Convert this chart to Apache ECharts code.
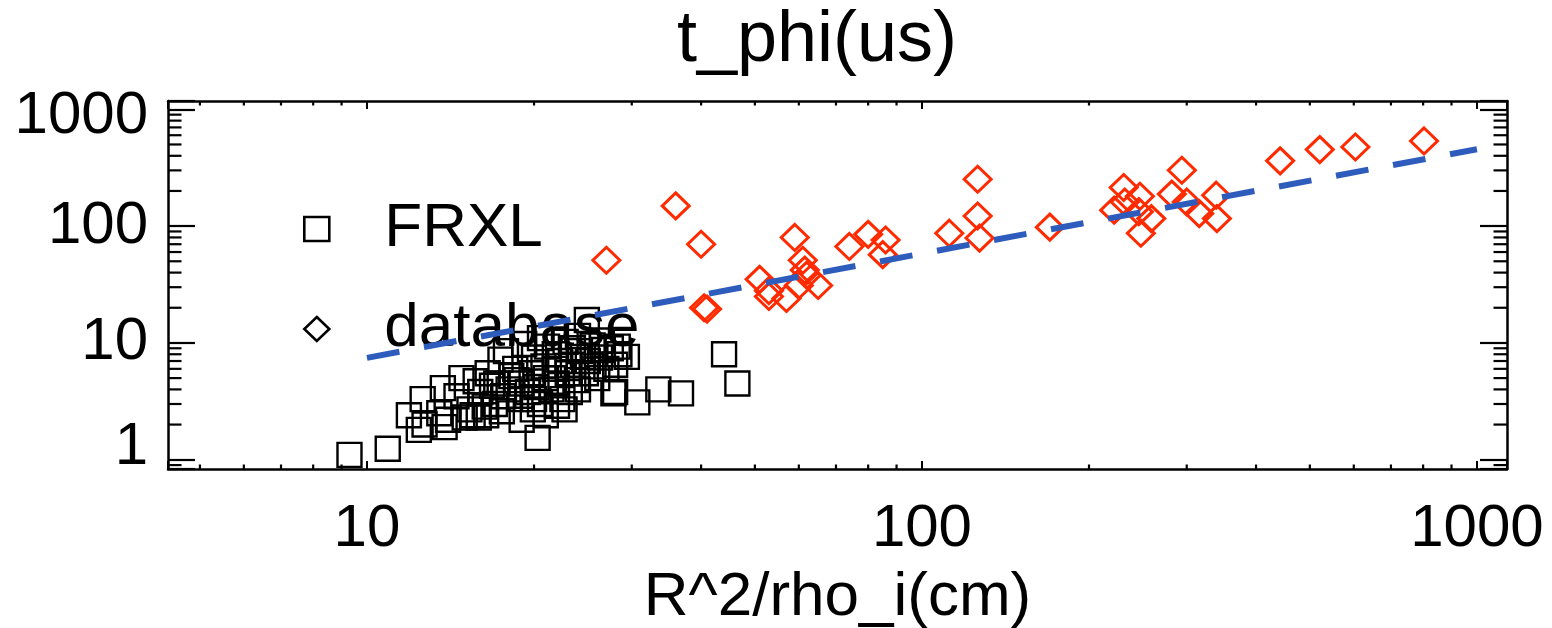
<!DOCTYPE html>
<html>
<head>
<meta charset="utf-8">
<title>t_phi(us)</title>
<script src="https://cdn.jsdelivr.net/npm/echarts@6.0.0/dist/echarts.min.js"></script>
<style>
    html, body {
        margin: 0;
        padding: 0;
        background: #fff;
    }
    #chart {
        width: 1552px;
        height: 628px;
    }
</style>
</head>
<body>
<div id="chart"></div>
<script>
    // FRXL points: R^2/rho_i (cm), t_phi (us)
    let frxlX = [9.3, 10.9, 11.9, 12.4, 12.7, 12.6, 13.7, 13.8, 13.5, 14, 14.5, 14.8, 15, 15.3, 15.5, 15.7, 15.9, 16, 16.3, 16.4,
        16.5, 16.8, 17, 17.1, 17.4, 17.5, 17.6, 17.8, 18, 18.2, 18.5, 18.6, 18.9, 19, 19, 19.2, 19.5, 19.8, 19.9, 20,
        20, 20.2, 20.3, 20.5, 20.5, 20.8, 21, 21, 21.1, 21.5, 21.8, 21.8, 22, 22, 22.3, 22.5, 22.7, 22.8, 23, 23.2,
        23.5, 23.5, 23.9, 24, 24, 24.2, 24.5, 24.8, 24.9, 25, 25.5, 25.6, 26, 26.3, 26.5, 26.6, 27, 27.5, 27.8, 28,
        28, 28.3, 28.5, 29.4, 30.7, 33.5, 36.8, 44, 46.5];
    let frxlY = [1.1, 1.24, 2.4, 1.8, 2.0, 3.3, 4.1, 1.9, 2.5, 2.2, 3.5, 5.0, 2.3, 2.7, 2.4, 4.7, 2.3, 3.8, 2.85, 2.4,
        5.5, 4.3, 3.0, 4.5, 7.2, 2.6, 3.5, 8.5, 4.0, 5.2, 6.0, 4.8, 3.3, 2.2, 4.5, 9.8, 3.8, 5.5, 2.7, 3.3,
        7.5, 4.2, 1.54, 3.0, 11, 6.3, 5.0, 2.4, 9.3, 4.0, 6.0, 8.0, 4.5, 2.9, 7.0, 3.3, 2.7, 10.2, 5.5, 3.8,
        6.5, 9.0, 4.8, 4.0, 11.5, 8.5, 7.6, 5.5, 15.7, 7.0, 9.5, 6.3, 5.0, 7.5, 10.5, 8.7, 6.0, 9.0, 3.7, 6.5,
        3.8, 9.3, 8.0, 7.6, 3.1, 4.0, 3.7, 8.0, 4.5];

    // database points
    let dbX = [27, 36, 40, 40.5, 41, 59, 61, 61.5, 51, 53, 53, 57, 60, 65, 62, 74, 80, 86, 85, 112,
        126, 126, 127, 170, 231, 247, 222, 232, 246, 259, 248, 282, 294, 300, 316, 339, 340, 442, 521, 604, 803];
    let dbY = [51, 149, 70, 20, 19.5, 80, 51, 42, 35, 28, 25, 24, 31, 31, 38, 67, 85, 76, 57, 87,
        252, 122, 79, 98, 214, 180, 137, 161, 133, 116, 87, 188, 301, 161, 128, 184, 116, 362, 452, 476, 536];

    // power-law fit, end points
    let fitX = [10, 1000];
    let fitY = [7.45, 455];

    let xRange = [4.38, 1133];
    let yRange = [0.833, 1178];

    let xMinorTicks = [5, 6, 7, 8, 9, 20, 30, 40, 50, 60, 70, 80, 90, 200, 300, 400, 500, 600, 700, 800, 900];
    let yMinorTicks = [0.9, 2, 3, 4, 5, 6, 7, 8, 9, 20, 30, 40, 50, 60, 70, 80, 90, 200, 300, 400, 500, 600, 700, 800, 900];

    let font = '"Liberation Sans", Arial, Helvetica, sans-serif';

    function zip(a, b) {
        return a.map((v, i) => [v, b[i]]);
    }

    function isDecade(value) {
        let l = Math.log10(value);
        return Math.abs(l - Math.round(l)) < 1e-6;
    }

    let minorData = xMinorTicks.map((v) => [v, 1, 0])
        .concat(yMinorTicks.map((v) => [10, v, 1]));

    let axisLine = {show: true, lineStyle: {color: '#000', width: 2.5}};

    let option = {
        animation: false,
        backgroundColor: '#fff',
        textStyle: {fontFamily: font, color: '#000'},
        title: {
            text: 't_phi(us)',
            left: 812,
            textAlign: 'center',
            top: 0,
            textStyle: {fontFamily: font, fontSize: 72, fontWeight: 'normal', color: '#000'}
        },
        grid: {left: 168, right: 45, top: 101, bottom: 159, outerBoundsMode: 'none'},
        legend: {
            orient: 'vertical',
            left: 298,
            top: 193,
            padding: 5,
            itemWidth: 25,
            itemHeight: 24,
            itemGap: 38,
            selectedMode: false,
            data: [
                {name: 'FRXL', icon: 'rect', itemStyle: {color: 'transparent', borderColor: '#000', borderWidth: 2.6, opacity: 1}},
                {name: 'database', icon: 'diamond', itemStyle: {color: 'transparent', borderColor: '#000', borderWidth: 2.6, opacity: 1}}
            ],
            formatter: '{t|{name}}',
            textStyle: {
                fontFamily: font,
                fontSize: 62,
                color: '#000',
                rich: {t: {fontFamily: font, fontSize: 62, color: '#000', padding: [0, 0, 0, 50]}}
            }
        },
        xAxis: [{
            type: 'log',
            position: 'bottom',
            min: xRange[0],
            max: xRange[1],
            name: 'R^2/rho_i(cm)',
            nameLocation: 'middle',
            nameGap: 98,
            nameTextStyle: {fontFamily: font, fontSize: 62, color: '#000'},
            axisLine: axisLine,
            axisTick: {show: true, inside: true, length: 8, lineStyle: {color: '#000', width: 2}},
            axisLabel: {
                fontFamily: font,
                fontSize: 60,
                color: '#000',
                margin: 30,
                formatter: (value) => isDecade(value) ? String(Math.round(value)) : ''
            },
            splitLine: {show: false}
        }, {
            type: 'log',
            position: 'top',
            min: xRange[0],
            max: xRange[1],
            axisLine: axisLine,
            axisTick: {show: true, inside: true, length: 8, lineStyle: {color: '#000', width: 2}},
            axisLabel: {show: false},
            splitLine: {show: false}
        }],
        yAxis: [{
            type: 'log',
            position: 'left',
            min: yRange[0],
            max: yRange[1],
            axisLine: axisLine,
            axisTick: {show: true, inside: true, length: 27, lineStyle: {color: '#000', width: 2.2}},
            axisLabel: {
                fontFamily: font,
                fontSize: 60,
                color: '#000',
                margin: 20,
                formatter: (value) => {
                    if (!isDecade(value)) return '';
                    let s = String(Math.round(value));
                    if (s === '1') return '{lo|1}';
                    if (s === '1000') return '{hi|1000}';
                    return '{n|' + s + '}';
                },
                rich: {
                    n: {fontFamily: font, fontSize: 60, color: '#000'},
                    lo: {fontFamily: font, fontSize: 60, color: '#000', padding: [0, 0, 24, 0]},
                    hi: {fontFamily: font, fontSize: 60, color: '#000', padding: [14, 0, 0, 0]}
                }
            },
            splitLine: {show: false}
        }, {
            type: 'log',
            position: 'right',
            min: yRange[0],
            max: yRange[1],
            axisLine: axisLine,
            axisTick: {show: true, inside: true, length: 27, lineStyle: {color: '#000', width: 2.2}},
            axisLabel: {show: false},
            splitLine: {show: false}
        }],
        series: [
            {
                name: 'minor ticks',
                type: 'custom',
                silent: true,
                data: minorData,
                z: 1,
                renderItem: function (params, api) {
                    let cs = params.coordSys;
                    let p = api.coord([api.value(0), api.value(1)]);
                    let style = {stroke: '#000', lineWidth: 2.2};
                    let lines;
                    if (api.value(2) === 0) {
                        let b = cs.y + cs.height;
                        lines = [[p[0], b, p[0], b - 4.5], [p[0], cs.y, p[0], cs.y + 4.5]];
                    } else {
                        let r = cs.x + cs.width;
                        lines = [[cs.x, p[1], cs.x + 13.5, p[1]], [r, p[1], r - 13.5, p[1]]];
                    }
                    return {
                        type: 'group',
                        children: lines.map((l) => ({
                            type: 'line',
                            shape: {x1: l[0], y1: l[1], x2: l[2], y2: l[3]},
                            style: style
                        }))
                    };
                }
            },
            {
                name: 'FRXL',
                type: 'scatter',
                symbol: 'rect',
                symbolSize: 24,
                data: zip(frxlX, frxlY),
                itemStyle: {color: 'transparent', borderColor: '#000', borderWidth: 2.4, opacity: 1},
                z: 2
            },
            {
                name: 'database',
                type: 'scatter',
                symbol: 'diamond',
                symbolSize: [27, 26],
                data: zip(dbX, dbY),
                itemStyle: {color: 'transparent', borderColor: '#ff2a00', borderWidth: 3, opacity: 1},
                z: 3
            },
            {
                name: 'fit',
                type: 'line',
                data: zip(fitX, fitY),
                symbol: 'none',
                lineStyle: {color: '#2e5cbc', width: 6, type: [33, 25], opacity: 1},
                z: 5
            }
        ]
    };

    let myChart = echarts.init(document.getElementById('chart'));
    myChart.setOption(option);
</script>
</body>
</html>
